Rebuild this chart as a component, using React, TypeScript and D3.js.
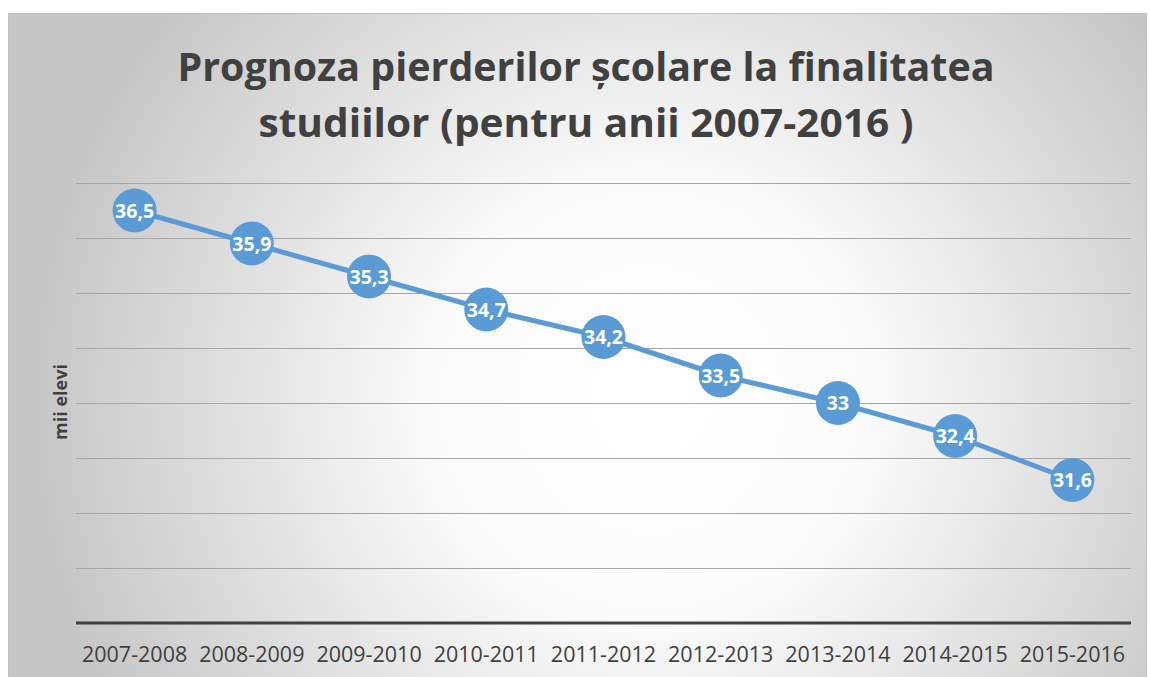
import React, { useEffect, useRef } from "react";
import * as d3 from "d3";

const categories = [
  "2007-2008",
  "2008-2009",
  "2009-2010",
  "2010-2011",
  "2011-2012",
  "2012-2013",
  "2013-2014",
  "2014-2015",
  "2015-2016",
];
const values = [36.5, 35.9, 35.3, 34.7, 34.2, 33.5, 33, 32.4, 31.6];
const yTicks = [29, 30, 31, 32, 33, 34, 35, 36, 37];
const titleLines = ["Prognoza pierderilor școlare la finalitatea", "studiilor (pentru anii 2007-2016 )"];
const yTitle = "mii elevi";

const W = 1150;
const H = 677;
const FONT = "'Open Sans', 'DejaVu Sans', sans-serif";

const App = () => {
  const svgRef = useRef<SVGSVGElement>(null);

  useEffect(() => {
    const svg = d3.select(svgRef.current);
    svg.selectAll("*").remove();

    // background gradient, white in the middle, grey at the edges
    const defs = svg.append("defs");
    const grad = defs
      .append("radialGradient")
      .attr("id", "bg")
      .attr("gradientUnits", "userSpaceOnUse")
      .attr("cx", 650)
      .attr("cy", 400)
      .attr("r", 620);
    grad.append("stop").attr("offset", "0%").attr("stop-color", "#ffffff");
    grad.append("stop").attr("offset", "35%").attr("stop-color", "#fbfbfb");
    grad.append("stop").attr("offset", "100%").attr("stop-color", "#c6c6c6");

    svg
      .append("rect")
      .attr("x", 8.5)
      .attr("y", 13.5)
      .attr("width", 1138)
      .attr("height", 670)
      .attr("fill", "url(#bg)")
      .attr("stroke", "#bfbfbf");

    const margin = { left: 76, right: 1131, top: 183, bottom: 623 };

    const x = d3.scaleBand().domain(categories).range([margin.left, margin.right]);
    const y = d3.scaleLinear().domain([29, 37]).range([margin.bottom, margin.top]);

    // title, stretched to the widths measured on the reference
    const titleWidths = [817, 655];
    const title = svg
      .append("text")
      .attr("text-anchor", "middle")
      .attr("font-family", FONT)
      .attr("font-weight", "bold")
      .attr("font-size", 40)
      .attr("fill", "#404040");
    titleLines.forEach((t, i) => {
      title
        .append("tspan")
        .attr("x", 586)
        .attr("y", 81 + i * 56)
        .attr("textLength", titleWidths[i])
        .attr("lengthAdjust", "spacingAndGlyphs")
        .text(t);
    });

    // gridlines
    svg
      .append("g")
      .selectAll("line")
      .data(yTicks.slice(1))
      .enter()
      .append("line")
      .attr("x1", margin.left)
      .attr("x2", margin.right)
      .attr("y1", (d) => Math.round(y(d)) + 0.5)
      .attr("y2", (d) => Math.round(y(d)) + 0.5)
      .attr("stroke", "#a6a6a6")
      .attr("stroke-width", 1);

    // x axis line
    svg
      .append("line")
      .attr("x1", margin.left)
      .attr("x2", margin.right)
      .attr("y1", y(29))
      .attr("y2", y(29))
      .attr("stroke", "#404040")
      .attr("stroke-width", 3);

    // category labels
    svg
      .append("g")
      .selectAll("text")
      .data(categories)
      .enter()
      .append("text")
      .attr("x", (d) => (x(d) as number) + x.bandwidth() / 2)
      .attr("y", 662)
      .attr("text-anchor", "middle")
      .attr("font-family", FONT)
      .attr("font-size", 21.5)
      .attr("fill", "#404040")
      .text((d) => d);

    // y axis title
    svg
      .append("text")
      .attr("transform", `translate(67,402) rotate(-90)`)
      .attr("text-anchor", "middle")
      .attr("font-family", FONT)
      .attr("font-weight", "bold")
      .attr("font-size", 18)
      .attr("fill", "#404040")
      .text(yTitle);

    const data = categories.map((c, i) => ({ c, v: values[i] }));

    const line = d3
      .line<{ c: string; v: number }>()
      .x((d) => (x(d.c) as number) + x.bandwidth() / 2)
      .y((d) => y(d.v));

    svg
      .append("path")
      .datum(data)
      .attr("fill", "none")
      .attr("stroke", "#5b9bd5")
      .attr("stroke-width", 5)
      .attr("stroke-linejoin", "round")
      .attr("d", line);

    const pts = svg
      .append("g")
      .selectAll("g")
      .data(data)
      .enter()
      .append("g")
      .attr("transform", (d) => `translate(${(x(d.c) as number) + x.bandwidth() / 2},${y(d.v)})`);

    pts.append("circle").attr("r", 22).attr("fill", "#5b9bd5");

    pts
      .append("text")
      .attr("text-anchor", "middle")
      .attr("dy", 7)
      .attr("font-family", FONT)
      .attr("font-weight", "bold")
      .attr("font-size", 19.5)
      .attr("fill", "#ffffff")
      .text((d) => String(d.v).replace(".", ","));
  }, []);

  return (
    <svg
      ref={svgRef}
      width={W}
      height={H}
      style={{ position: "absolute", left: 0, top: 0 }}
    ></svg>
  );
};

export default App;
